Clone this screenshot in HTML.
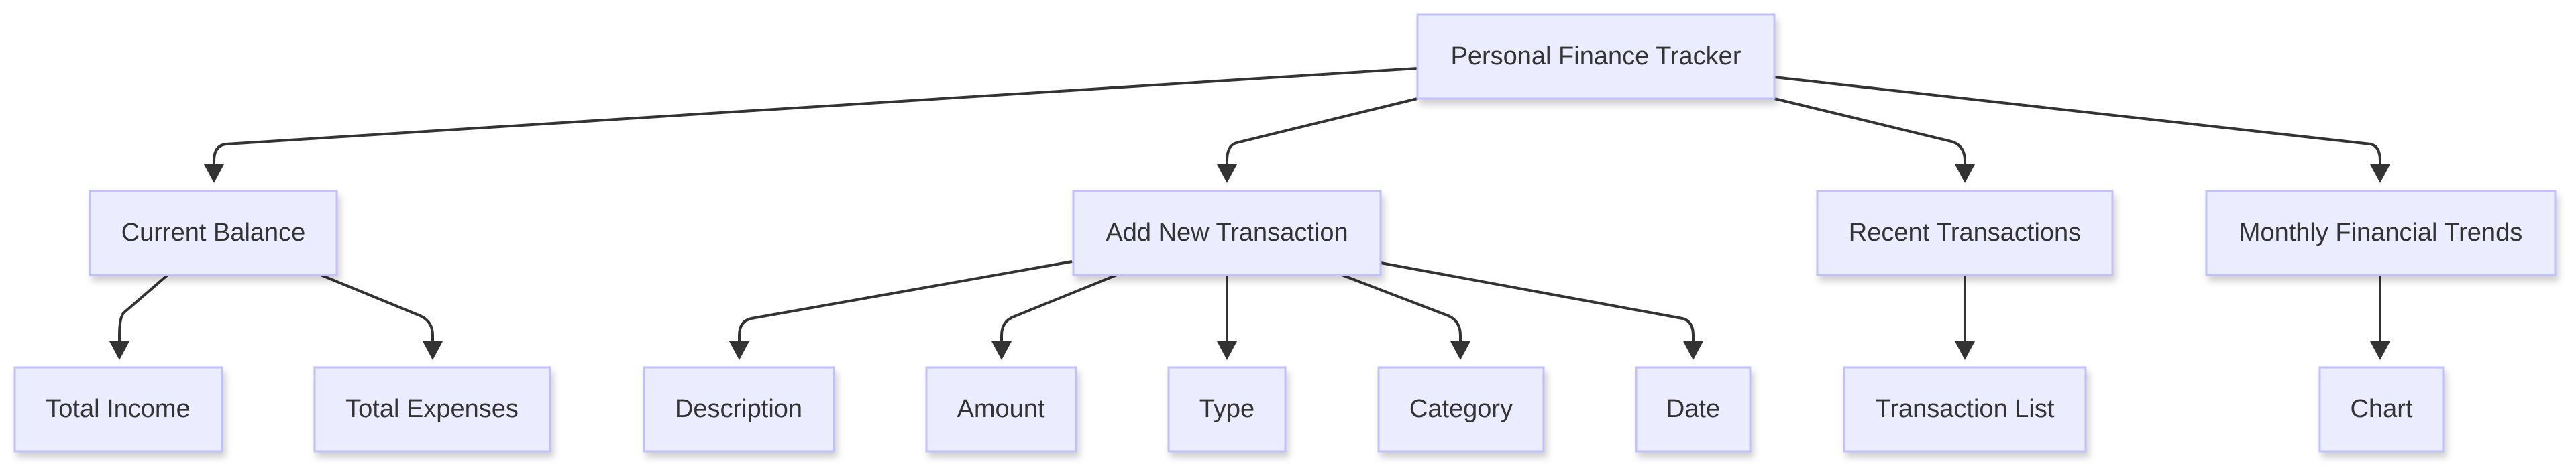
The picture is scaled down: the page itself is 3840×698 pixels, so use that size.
<!DOCTYPE html>
<html><head><meta charset="utf-8"><style>
html,body{margin:0;padding:0;background:#fff;}
svg{display:block;}
text{font-family:"Liberation Sans",Arial,sans-serif;font-size:38px;fill:#333;text-anchor:middle;dominant-baseline:central;}
.n{fill:#ECECFF;stroke:#c0c0ff;stroke-width:3;filter:url(#sh);}
.e{fill:none;stroke:#333;stroke-width:4;}
</style></head><body>
<svg width="3840" height="698" viewBox="0 0 3840 698" xmlns="http://www.w3.org/2000/svg">
<defs>
<filter id="sh" x="-10%" y="-10%" width="130%" height="140%"><feDropShadow dx="4" dy="8" stdDeviation="5" flood-color="#000" flood-opacity="0.18"/></filter>
<marker id="a" markerWidth="10" markerHeight="10" refX="9" refY="5" orient="auto" markerUnits="userSpaceOnUse" viewBox="0 0 10 10" style="overflow:visible">
</marker>
</defs>
<g>
<path class="e" d="M2113,102 L337,215 Q319,217 319,240 L319,250"/>
<path class="e" d="M2113,147 L1843,213 Q1829,217 1829,240 L1829,250"/>
<path class="e" d="M2645,147 L2909,211 Q2929,217 2929,240 L2929,250"/>
<path class="e" d="M2645,115 L3534,215 Q3548,218 3548,240 L3548,250"/>
<path class="e" d="M250,410 L184,467 Q178,475 178,500 L178,512"/>
<path class="e" d="M478,410 L624,470 Q645,478 645,500 L645,512"/>
<path class="e" d="M1598,390 L1120,475 Q1102,479 1102,500 L1102,512"/>
<path class="e" d="M1665,410 L1512,472 Q1493,479 1493,500 L1493,512"/>
<path class="e" d="M1829,410 L1829,512" style="stroke-width:3"/>
<path class="e" d="M2000,410 L2159,471 Q2177,479 2177,500 L2177,512"/>
<path class="e" d="M2058,392 L2508,475 Q2524,479 2524,500 L2524,512"/>
<path class="e" d="M2929,410 L2929,512" style="stroke-width:3"/>
<path class="e" d="M3548,410 L3548,512" style="stroke-width:3"/>
<g fill="#333">
<polygon points="304,245 334,245 319,273"/>
<polygon points="1814,245 1844,245 1829,273"/>
<polygon points="2914,245 2944,245 2929,273"/>
<polygon points="3533,245 3563,245 3548,273"/>
<polygon points="163,509 193,509 178,537"/>
<polygon points="630,509 660,509 645,537"/>
<polygon points="1087,509 1117,509 1102,537"/>
<polygon points="1478,509 1508,509 1493,537"/>
<polygon points="1814,509 1844,509 1829,537"/>
<polygon points="2162,509 2192,509 2177,537"/>
<polygon points="2509,509 2539,509 2524,537"/>
<polygon points="2914,509 2944,509 2929,537"/>
<polygon points="3533,509 3563,509 3548,537"/>
</g>
</g>
<rect class="n" x="2113" y="22" width="532" height="125"/><text x="2379" y="84">Personal Finance Tracker</text>
<rect class="n" x="134" y="285" width="368" height="125"/><text x="318" y="347">Current Balance</text>
<rect class="n" x="1600" y="285" width="458" height="125"/><text x="1829" y="347">Add New Transaction</text>
<rect class="n" x="2709" y="285" width="440" height="125"/><text x="2929" y="347">Recent Transactions</text>
<rect class="n" x="3289" y="285" width="520" height="125"/><text x="3549" y="347">Monthly Financial Trends</text>
<rect class="n" x="22" y="548" width="309" height="125"/><text x="176" y="610">Total Income</text>
<rect class="n" x="469" y="548" width="351" height="125"/><text x="644" y="610">Total Expenses</text>
<rect class="n" x="960" y="548" width="283" height="125"/><text x="1101" y="610">Description</text>
<rect class="n" x="1381" y="548" width="223" height="125"/><text x="1492" y="610">Amount</text>
<rect class="n" x="1742" y="548" width="174" height="125"/><text x="1829" y="610">Type</text>
<rect class="n" x="2055" y="548" width="246" height="125"/><text x="2178" y="610">Category</text>
<rect class="n" x="2439" y="548" width="170" height="125"/><text x="2524" y="610">Date</text>
<rect class="n" x="2749" y="548" width="360" height="125"/><text x="2929" y="610">Transaction List</text>
<rect class="n" x="3458" y="548" width="184" height="125"/><text x="3550" y="610">Chart</text>
</svg>
</body></html>
